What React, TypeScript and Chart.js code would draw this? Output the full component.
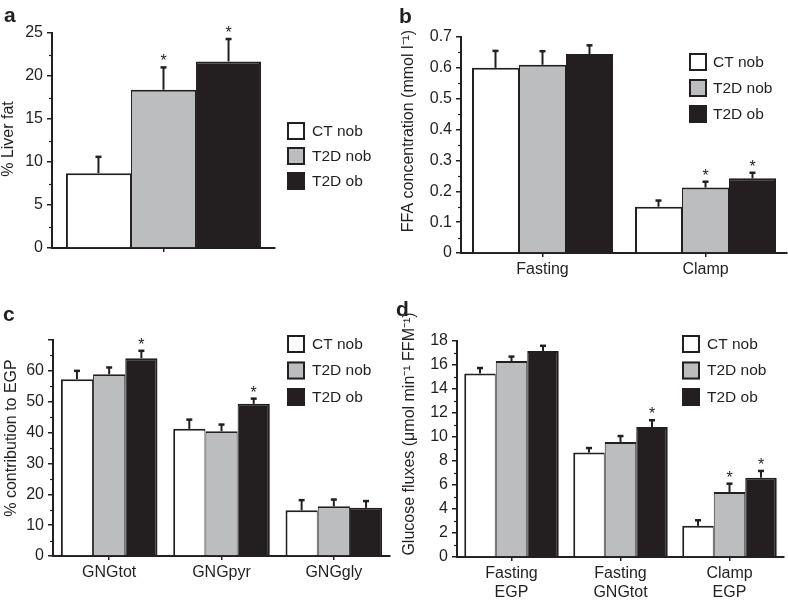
import React, { useEffect, useRef } from 'react';
import { Chart, registerables } from 'chart.js';

Chart.register(...registerables);

const FONT = "'Liberation Sans', Arial, Helvetica, sans-serif";
const INK = '#231f20';

const seriesLabels = ['CT nob', 'T2D nob', 'T2D ob'];
const seriesFill = ['#ffffff', '#bcbdbf', '#231f20'];

// Panel a: liver fat
const aCategories = [''];
const aCtNob = [8.7];
const aT2dNob = [18.4];
const aT2dOb = [21.7];
const aCtNobErr = [1.9];
const aT2dNobErr = [2.6];
const aT2dObErr = [2.6];
const aCtNobSig = [false];
const aT2dNobSig = [true];
const aT2dObSig = [true];

// Panel b: FFA concentration
const bCategories = ['Fasting', 'Clamp'];
const bCtNob = [0.6, 0.15];
const bT2dNob = [0.61, 0.212];
const bT2dOb = [0.645, 0.242];
const bCtNobErr = [0.055, 0.02];
const bT2dNobErr = [0.044, 0.019];
const bT2dObErr = [0.028, 0.018];
const bCtNobSig = [false, false];
const bT2dNobSig = [false, true];
const bT2dObSig = [false, true];

// Panel c: % contribution to EGP
const cCategories = ['GNGtot', 'GNGpyr', 'GNGgly'];
const cCtNob = [57.3, 41.2, 14.8];
const cT2dNob = [58.9, 40.4, 16.1];
const cT2dOb = [64.1, 49.3, 15.6];
const cCtNobErr = [2.7, 3.0, 3.3];
const cT2dNobErr = [2.2, 2.2, 2.2];
const cT2dObErr = [2.4, 1.7, 2.2];
const cCtNobSig = [false, false, false];
const cT2dNobSig = [false, false, false];
const cT2dObSig = [true, true, false];

// Panel d: glucose fluxes
const dCategories = [['Fasting', 'EGP'], ['Fasting', 'GNGtot'], ['Clamp', 'EGP']];
const dCtNob = [15.3, 8.7, 2.6];
const dT2dNob = [16.33, 9.58, 5.42];
const dT2dOb = [17.17, 10.83, 6.61];
const dCtNobErr = [0.45, 0.38, 0.46];
const dT2dNobErr = [0.37, 0.5, 0.69];
const dT2dObErr = [0.43, 0.57, 0.56];
const dCtNobSig = [false, false, false];
const dT2dNobSig = [false, false, true];
const dT2dObSig = [false, true, true];

type PanelCfg = {
  left: number;
  top: number;
  letter: string;
  letterPos: [number, number];
  yTitle: string;
  titlePos: [number, number];
  categories: (string | string[])[];
  values: number[][];
  errors: number[][];
  sig: boolean[][];
  yMax: number;
  yStep: number;
  minorStep: number;
  hideTop?: boolean;
  catPct: number;
  area: { top: number; right: number; yw: number; xh: number };
  legend: { x: number; y: number; gap: number; textX: number };
};

const panels: PanelCfg[] = [
  {
    left: 0, top: 0, letter: 'a', letterPos: [4, 22],
    yTitle: '% Liver fat', titlePos: [9, 139],
    categories: aCategories,
    values: [aCtNob, aT2dNob, aT2dOb],
    errors: [aCtNobErr, aT2dNobErr, aT2dObErr],
    sig: [aCtNobSig, aT2dNobSig, aT2dObSig],
    yMax: 25, yStep: 5, minorStep: 2.5, catPct: 0.875,
    area: { top: 33, right: 119, yw: 52, xh: 52 },
    legend: { x: 287, y: 122, gap: 25, textX: 312 },
  },
  {
    left: 394, top: 0, letter: 'b', letterPos: [5, 23],
    yTitle: 'FFA concentration (mmol l\u207B\u00B9)', titlePos: [15, 131],
    categories: bCategories,
    values: [bCtNob, bT2dNob, bT2dOb],
    errors: [bCtNobErr, bT2dNobErr, bT2dObErr],
    sig: [bCtNobSig, bT2dNobSig, bT2dObSig],
    yMax: 0.7, yStep: 0.1, minorStep: 0.05, catPct: 0.865,
    area: { top: 37, right: 1, yw: 67, xh: 47 },
    legend: { x: 295, y: 53, gap: 26, textX: 319 },
  },
  {
    left: 0, top: 300, letter: 'c', letterPos: [3, 21],
    yTitle: '% contribution to EGP', titlePos: [12, 138],
    categories: cCategories,
    values: [cCtNob, cT2dNob, cT2dOb],
    errors: [cCtNobErr, cT2dNobErr, cT2dObErr],
    sig: [cCtNobSig, cT2dNobSig, cT2dObSig],
    yMax: 70, yStep: 10, minorStep: 5, hideTop: true, catPct: 0.86,
    area: { top: 40, right: 4, yw: 53, xh: 44 },
    legend: { x: 287, y: 35, gap: 26.5, textX: 312 },
  },
  {
    left: 394, top: 300, letter: 'd', letterPos: [2, 16],
    yTitle: 'Glucose fluxes (\u03BCmol min\u207B\u00B9 FFM\u207B\u00B9)', titlePos: [16, 134],
    categories: dCategories,
    values: [dCtNob, dT2dNob, dT2dOb],
    errors: [dCtNobErr, dT2dNobErr, dT2dObErr],
    sig: [dCtNobSig, dT2dNobSig, dT2dObSig],
    yMax: 18, yStep: 2, minorStep: 1, catPct: 0.867,
    area: { top: 41, right: 4, yw: 63, xh: 43 },
    legend: { x: 288, y: 35, gap: 26.5, textX: 313 },
  },
];

const borderWidths = [
  { left: 2, right: 1, top: 2, bottom: 0 },
  { left: 1, right: 1, top: 2, bottom: 0 },
  { left: 1, right: 2, top: 2, bottom: 0 },
];

function makeDecor(cfg: PanelCfg) {
  return {
    id: 'panelDecor',
    afterDatasetsDraw(chart: any) {
      const ctx = chart.ctx;
      const ys = chart.scales.y;
      chart.data.datasets.forEach((ds: any, i: number) => {
        const meta = chart.getDatasetMeta(i);
        meta.data.forEach((bar: any, j: number) => {
          const v = ds.data[j];
          const e = ds.errors[j];
          const yTop = ys.getPixelForValue(v);
          const yErr = ys.getPixelForValue(v + e);
          ctx.save();
          ctx.strokeStyle = INK;
          ctx.lineWidth = 2;
          ctx.beginPath();
          ctx.moveTo(bar.x, yTop);
          ctx.lineTo(bar.x, yErr);
          ctx.stroke();
          ctx.lineWidth = 2.5;
          ctx.beginPath();
          ctx.moveTo(bar.x - 3, yErr);
          ctx.lineTo(bar.x + 3, yErr);
          ctx.stroke();
          if (ds.sig[j]) {
            ctx.fillStyle = INK;
            ctx.font = `16px ${FONT}`;
            ctx.textAlign = 'center';
            ctx.textBaseline = 'alphabetic';
            ctx.fillText('*', bar.x, yErr - 1);
          }
          ctx.restore();
        });
      });
    },
    afterDraw(chart: any) {
      const ctx = chart.ctx;
      const ys = chart.scales.y;
      ctx.save();
      // minor ticks
      ctx.strokeStyle = INK;
      ctx.lineWidth = 1.2;
      const xr = chart.chartArea.left;
      for (let k = 1; k * cfg.minorStep < cfg.yMax - 1e-9; k++) {
        const v = k * cfg.minorStep;
        const r = v / cfg.yStep;
        if (Math.abs(r - Math.round(r)) < 1e-6) continue;
        const py = Math.round(ys.getPixelForValue(v)) + 0.5;
        ctx.beginPath();
        ctx.moveTo(xr - 3, py);
        ctx.lineTo(xr, py);
        ctx.stroke();
      }
      // legend
      const L = cfg.legend;
      seriesLabels.forEach((lab, i) => {
        const by = L.y + i * L.gap;
        ctx.fillStyle = seriesFill[i];
        ctx.fillRect(L.x, by, 18, 18);
        ctx.strokeStyle = INK;
        ctx.lineWidth = 2;
        ctx.strokeRect(L.x + 1, by + 1, 16, 16);
        ctx.fillStyle = INK;
        ctx.font = `15.5px ${FONT}`;
        ctx.textAlign = 'left';
        ctx.textBaseline = 'middle';
        ctx.fillText(lab, L.textX, by + 9.5);
      });
      // panel letter
      ctx.fillStyle = INK;
      ctx.font = `bold 21px ${FONT}`;
      ctx.textAlign = 'left';
      ctx.textBaseline = 'alphabetic';
      ctx.fillText(cfg.letter, cfg.letterPos[0], cfg.letterPos[1]);
      // y title
      ctx.translate(cfg.titlePos[0], cfg.titlePos[1]);
      ctx.rotate(-Math.PI / 2);
      ctx.font = `16px ${FONT}`;
      ctx.textAlign = 'center';
      ctx.textBaseline = 'middle';
      ctx.fillText(cfg.yTitle, 0, 0);
      ctx.restore();
    },
  };
}

function Panel({ cfg }: { cfg: PanelCfg }) {
  const ref = useRef<HTMLCanvasElement | null>(null);
  useEffect(() => {
    if (!ref.current) return;
    const fmt = (v: number) => String(Math.round(v * 100) / 100);
    const chart = new Chart(ref.current, {
      type: 'bar',
      data: {
        labels: cfg.categories as any,
        datasets: cfg.values.map((vals, i) => ({
          label: seriesLabels[i],
          data: vals,
          backgroundColor: seriesFill[i],
          borderColor: INK,
          borderWidth: borderWidths[i],
          borderSkipped: 'start',
          categoryPercentage: cfg.catPct,
          barPercentage: 1,
          errors: cfg.errors[i],
          sig: cfg.sig[i],
        })) as any,
      },
      options: {
        responsive: false,
        animation: false,
        events: [],
        layout: { padding: { top: cfg.area.top, right: cfg.area.right, left: 0, bottom: 0 } },
        plugins: { legend: { display: false }, title: { display: false }, tooltip: { enabled: false } },
        scales: {
          x: {
            type: 'category',
            grid: { display: true, drawOnChartArea: false, drawTicks: true, tickLength: 4, offset: false, color: INK, lineWidth: 1.5 },
            border: { display: true, color: INK, width: 2 },
            ticks: { color: INK, font: { family: FONT, size: 16, lineHeight: 1.2 }, padding: 3, maxRotation: 0, autoSkip: false },
            afterFit: (s: any) => { s.height = cfg.area.xh; },
          },
          y: {
            min: 0,
            max: cfg.yMax,
            grid: { display: true, drawOnChartArea: false, drawTicks: true, tickLength: 5, color: INK, lineWidth: 1.5 },
            border: { display: true, color: INK, width: 2 },
            ticks: {
              stepSize: cfg.yStep,
              color: INK,
              font: { family: FONT, size: 16 },
              padding: 4,
              callback: (v: any) => (cfg.hideTop && Math.abs(Number(v) - cfg.yMax) < 1e-9 ? '' : fmt(Number(v))),
            },
            afterFit: (s: any) => { s.width = cfg.area.yw; },
          },
        },
      } as any,
      plugins: [makeDecor(cfg)],
    });
    return () => chart.destroy();
  }, [cfg]);
  return (
    <canvas
      ref={ref}
      width={394}
      height={300}
      style={{ position: 'absolute', left: cfg.left, top: cfg.top, width: 394, height: 300 }}
    />
  );
}

export default function App() {
  return (
    <div style={{ position: 'fixed', left: 0, top: 0, width: 788, height: 600, background: '#ffffff' }}>
      {panels.map((p) => (
        <Panel key={p.letter} cfg={p} />
      ))}
    </div>
  );
}
